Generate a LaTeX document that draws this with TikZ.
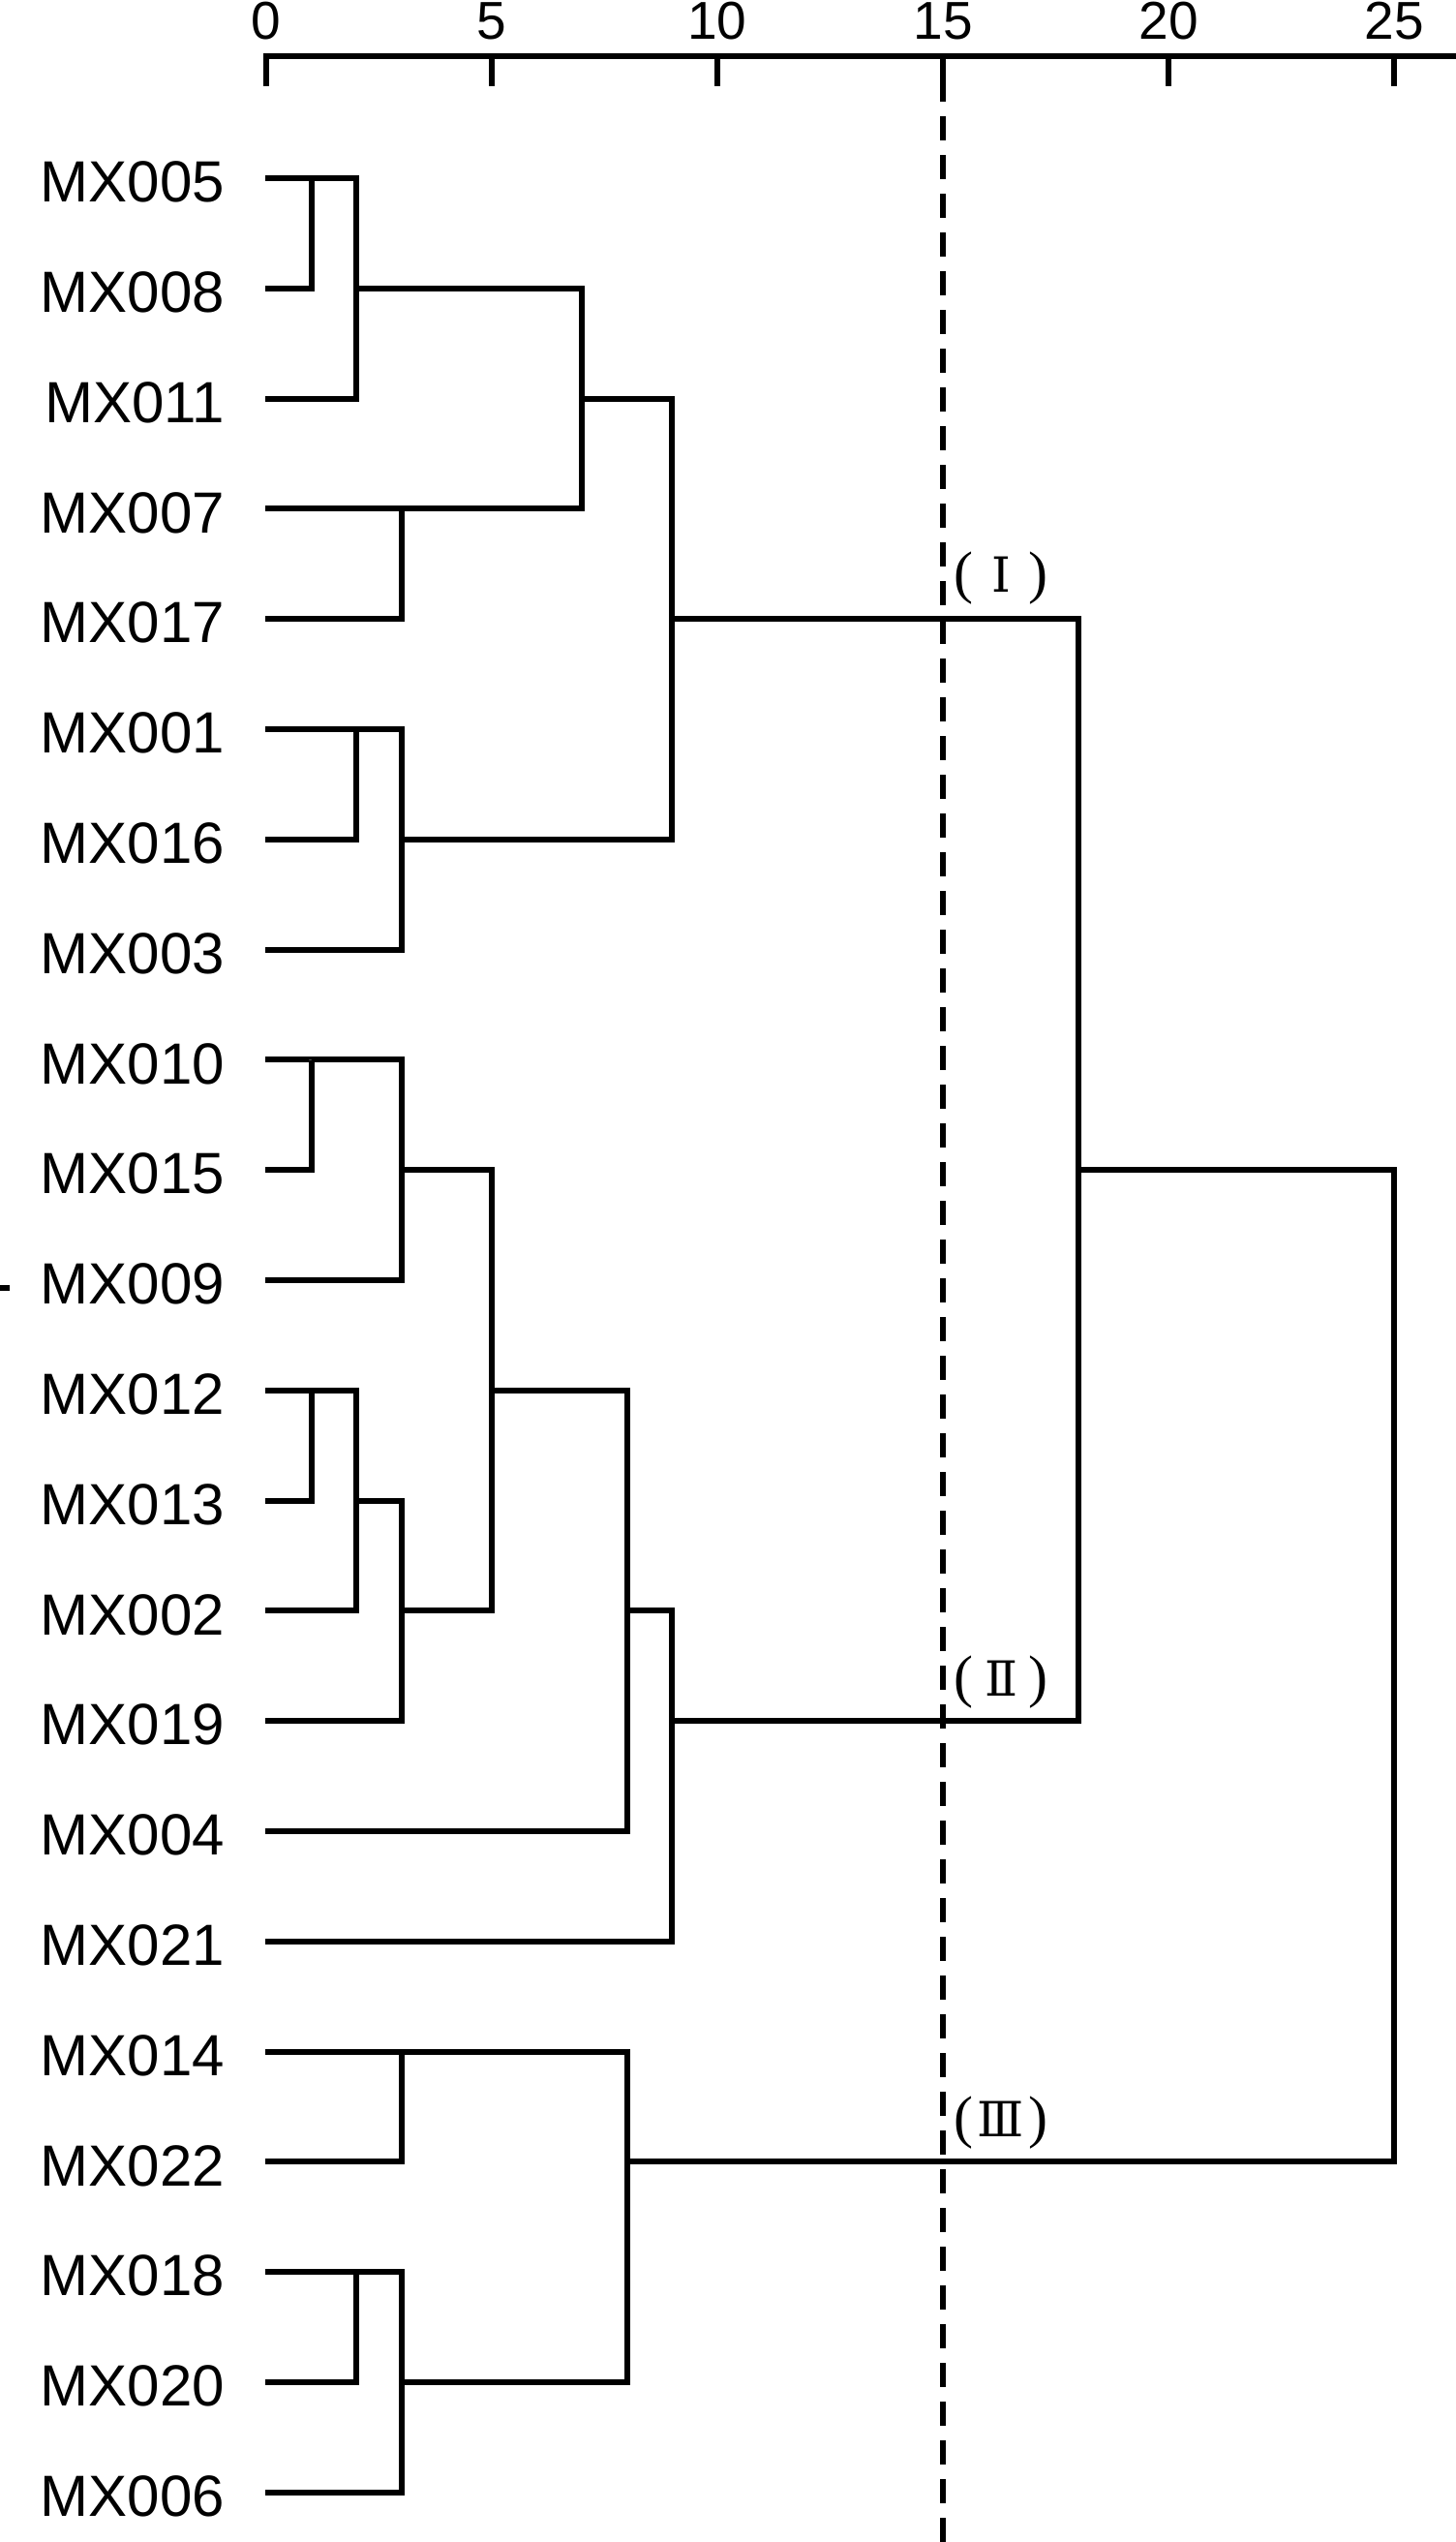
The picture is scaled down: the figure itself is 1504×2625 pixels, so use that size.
\documentclass[tikz,border=0pt]{standalone}
\usepackage{fontspec}
\setmainfont{Liberation Sans}
\newfontfamily\serifpar{Liberation Serif}
\newfontfamily\romfont{DejaVu Serif}
\begin{document}
\begin{tikzpicture}[x=0.5pt,y=-0.5pt,line width=3pt,
  leaflabel/.style={anchor=east,inner sep=0pt,font=\fontsize{30}{36}\selectfont},
  ticklab/.style={inner sep=0pt,font=\fontsize{27.5}{32}\selectfont},
  romlab/.style={inner sep=0pt,font=\serifpar\fontsize{30}{36}\selectfont},
  branch/.style={draw,line join=miter},
  cutline/.style={dash pattern=on 12.5pt off 7.5pt}]
\useasboundingbox (0,0) rectangle (1504,2625);
% axis
\draw (275,89) -- (275,58) -- (1504,58);
\foreach \v in {5,10,...,25} \draw (275+46.6*\v,58) -- (275+46.6*\v,89);
\foreach \v in {0,5,...,25} \node[ticklab] (T\v) at (275+46.6*\v,22) {\v};
% leaves
\foreach \n [count=\i from 0] in {MX005,MX008,MX011,MX007,MX017,MX001,MX016,MX003,MX010,MX015,MX009,MX012,MX013,MX002,MX019,MX004,MX021,MX014,MX022,MX018,MX020,MX006} {
  \coordinate (L\i) at (274,184+113.8*\i);
  \node[leaflabel] (N\i) at (235,188+113.8*\i) {\n};
}
% merge points
\coordinate (a1) at (321.6,184);
\coordinate (a2) at (368.2,297.8);
\coordinate (a3) at (414.8,525.4);
\coordinate (a4) at (601.2,411.6);
\coordinate (a5) at (368.2,753);
\coordinate (a6) at (414.8,866.8);
\coordinate (a7) at (694.4,639.2);
\coordinate (b1) at (321.6,1094.4);
\coordinate (b2) at (414.8,1208.2);
\coordinate (b3) at (321.6,1435.8);
\coordinate (b4) at (368.2,1549.6);
\coordinate (b5) at (414.8,1663.4);
\coordinate (b6) at (508,1435.8);
\coordinate (b7) at (647.8,1663.4);
\coordinate (b8) at (694.4,1777.2);
\coordinate (t1) at (1113.8,1208.2);
\coordinate (c1) at (414.8,2118.6);
\coordinate (c2) at (368.2,2346.2);
\coordinate (c3) at (414.8,2460);
\coordinate (c4) at (647.8,2232.4);
\coordinate (t2) at (1440,1208.2);
% branches
\path[branch] (L0) -| (a1) |- (L1);
\path[branch] (a1) -| (a2) |- (L2);
\path[branch] (L3) -| (a3) |- (L4);
\path[branch] (a2) -| (a4) |- (a3);
\path[branch] (L5) -| (a5) |- (L6);
\path[branch] (a5) -| (a6) |- (L7);
\path[branch] (a4) -| (a7) |- (a6);
\path[branch] (L8) -| (b1) |- (L9);
\path[branch] (b1) -| (b2) |- (L10);
\path[branch] (L11) -| (b3) |- (L12);
\path[branch] (b3) -| (b4) |- (L13);
\path[branch] (b4) -| (b5) |- (L14);
\path[branch] (b2) -| (b6) |- (b5);
\path[branch] (b6) -| (b7) |- (L15);
\path[branch] (b7) -| (b8) |- (L16);
\path[branch] (a7) -| (t1) |- (b8);
\path[branch] (L17) -| (c1) |- (L18);
\path[branch] (L19) -| (c2) |- (L20);
\path[branch] (c2) -| (c3) |- (L21);
\path[branch] (c1) -| (c4) |- (c3);
\path[branch] (t1) -| (t2) |- (c4);
% cut line
\coordinate (cutTop) at (974,80);
\coordinate (cutBot) at (974,2625);
\draw[cutline] (cutTop) -- (cutBot);
% stray mark
\draw (0,1330) -- (10,1330);
% group labels
\node[romlab] (G1) at (1034,597.5) {(\makebox[28.5pt]{\romfont\fontsize{25}{30}\selectfont Ⅰ})};
\node[romlab] (G2) at (1034,1737.5) {(\makebox[28.5pt]{\romfont\fontsize{25}{30}\selectfont Ⅱ})};
\node[romlab] (G3) at (1034,2192) {(\makebox[28.5pt]{\romfont\fontsize{25}{30}\selectfont Ⅲ})};
\end{tikzpicture}
\end{document}
